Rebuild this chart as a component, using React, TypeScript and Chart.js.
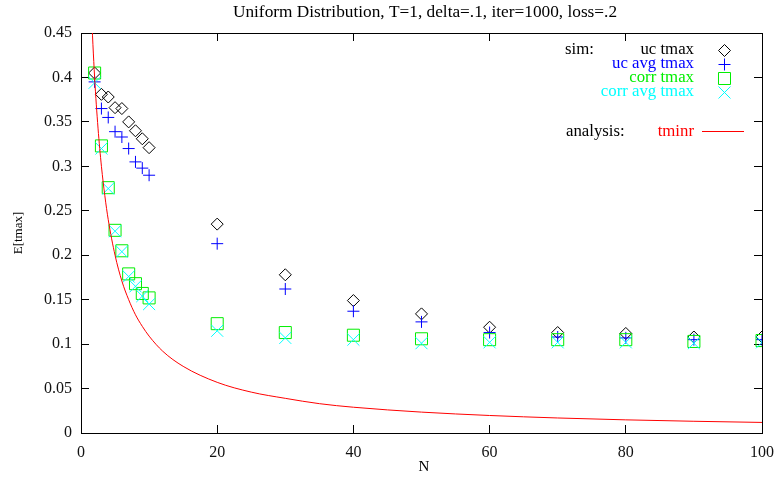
import React, { useEffect, useRef } from "react";
import { Chart, registerables } from "chart.js";

Chart.register(...registerables);

// Simulation sizes (x axis: N)
const simN = [2, 3, 4, 5, 6, 7, 8, 9, 10, 20, 30, 40, 50, 60, 70, 80, 90, 100];

// E[tmax] per series
const ucTmax = [0.405, 0.381, 0.378, 0.366, 0.365, 0.35, 0.34, 0.331, 0.321, 0.235, 0.178, 0.149, 0.134, 0.119, 0.113, 0.112, 0.108, 0.108];
const ucAvgTmax = [0.395, 0.365, 0.355, 0.339, 0.333, 0.32, 0.305, 0.298, 0.29, 0.213, 0.162, 0.137, 0.125, 0.113, 0.108, 0.107, 0.105, 0.105];
const corrTmax = [0.405, 0.323, 0.276, 0.228, 0.205, 0.179, 0.168, 0.157, 0.152, 0.123, 0.113, 0.11, 0.106, 0.105, 0.105, 0.105, 0.103, 0.104];
const corrAvgTmax = [0.394, 0.32, 0.275, 0.227, 0.204, 0.176, 0.165, 0.154, 0.145, 0.115, 0.107, 0.105, 0.101, 0.102, 0.102, 0.102, 0.101, 0.102];

// Analytical curve (tminr)
const tminrN = [1.3, 1.5, 2, 2.5, 3, 3.5, 4, 5, 6, 7, 8, 9, 10, 12, 15, 20, 25, 30, 35, 40, 50, 60, 70, 80, 90, 100];
const tminrV = [0.52, 0.48, 0.4, 0.343, 0.3, 0.267, 0.24, 0.2, 0.171, 0.15, 0.133, 0.12, 0.109, 0.092, 0.075, 0.057, 0.046, 0.039, 0.033, 0.029, 0.0235, 0.0197, 0.0169, 0.0148, 0.0132, 0.0119];

// Axis ticks
const xTicks = [0, 20, 40, 60, 80, 100];
const yTicks = [0, 0.05, 0.1, 0.15, 0.2, 0.25, 0.3, 0.35, 0.4, 0.45];
const yTickLabels = ["0", "0.05", "0.1", "0.15", "0.2", "0.25", "0.3", "0.35", "0.4", "0.45"];

const titleText = "Uniform Distribution, T=1, delta=.1, iter=1000, loss=.2";
const xTitle = "N";
const yTitle = "E[tmax]";

const simLegend = ["uc tmax", "uc avg tmax", "corr tmax", "corr avg tmax"];
const simColors = ["#000000", "#0000ff", "#00ee00", "#00ffff"];
const simStyles = ["rectRot", "cross", "rect", "crossRot"];
const simRadii = [6, 6, 8.5, 8.5];
const curveColor = "#ff0000";

const SERIF = "Liberation Serif";

function drawSymbol(ctx: CanvasRenderingContext2D, style: string, x: number, y: number, r: number) {
  ctx.beginPath();
  if (style === "rectRot") {
    ctx.moveTo(x, y - r);
    ctx.lineTo(x + r, y);
    ctx.lineTo(x, y + r);
    ctx.lineTo(x - r, y);
    ctx.closePath();
  } else if (style === "cross") {
    ctx.moveTo(x - r, y);
    ctx.lineTo(x + r, y);
    ctx.moveTo(x, y - r);
    ctx.lineTo(x, y + r);
  } else if (style === "rect") {
    const s = r * Math.SQRT1_2;
    ctx.rect(x - s, y - s, 2 * s, 2 * s);
  } else {
    const s = r * Math.SQRT1_2;
    ctx.moveTo(x - s, y - s);
    ctx.lineTo(x + s, y + s);
    ctx.moveTo(x - s, y + s);
    ctx.lineTo(x + s, y - s);
  }
  ctx.stroke();
}

// Title, axis titles and key
const plotText = {
  id: "plotText",
  afterDraw(chart: any) {
    const ctx: CanvasRenderingContext2D = chart.ctx;
    ctx.save();
    ctx.fillStyle = "#000";
    ctx.textAlign = "center";
    ctx.textBaseline = "middle";
    ctx.font = `17.3px ${SERIF}`;
    ctx.fillText(titleText, 425, 12);
    ctx.font = `15px ${SERIF}`;
    ctx.fillText(xTitle, 424, 467);
    ctx.save();
    ctx.translate(19, 233);
    ctx.rotate(-Math.PI / 2);
    ctx.font = `13px ${SERIF}`;
    ctx.fillText(yTitle, 0, 0);
    ctx.restore();

    ctx.font = `16.8px ${SERIF}`;
    ctx.textAlign = "left";
    ctx.fillStyle = "#000";
    ctx.fillText("sim:", 565, 50);
    ctx.fillText("analysis:", 566, 132);
    ctx.textAlign = "right";
    const rows = [50, 64, 78, 92];
    ctx.lineWidth = 1;
    simLegend.forEach((label, i) => {
      ctx.fillStyle = simColors[i];
      ctx.fillText(label, 694, rows[i]);
      ctx.strokeStyle = simColors[i];
      drawSymbol(ctx, simStyles[i], 724.5, rows[i] + 0.5, simRadii[i]);
    });
    ctx.fillStyle = curveColor;
    ctx.fillText("tminr", 694, 132);
    ctx.strokeStyle = curveColor;
    ctx.beginPath();
    ctx.moveTo(702, 131.5);
    ctx.lineTo(744, 131.5);
    ctx.stroke();
    ctx.restore();
  },
};

// Inward tick marks (negative length) and a black axis line on every side
const frameGrid = {
  display: true,
  drawOnChartArea: false,
  drawTicks: true,
  tickLength: -8,
  color: "#000",
  lineWidth: 1,
};
const frameBorder = { display: true, color: "#000", width: 1 };

export default function App() {
  const canvasRef = useRef<HTMLCanvasElement | null>(null);

  useEffect(() => {
    const canvas = canvasRef.current;
    if (!canvas) return;

    const simSeries = [ucTmax, ucAvgTmax, corrTmax, corrAvgTmax];
    const datasets: any[] = simSeries.map((vals, i) => ({
      data: simN.map((x, j) => ({ x, y: vals[j] })),
      pointStyle: simStyles[i],
      pointRadius: simRadii[i],
      borderColor: simColors[i],
      backgroundColor: "rgba(0,0,0,0)",
      order: 4 - i,
    }));
    datasets.push({
      data: tminrN.map((x, j) => ({ x, y: tminrV[j] })),
      showLine: true,
      pointRadius: 0,
      borderColor: curveColor,
      borderWidth: 1,
      cubicInterpolationMode: "monotone",
      order: 0,
    });

    const chart = new Chart(canvas, {
      type: "scatter",
      data: { datasets },
      options: {
        animation: false,
        responsive: false,
        devicePixelRatio: 1,
        layout: { padding: { left: 0, right: 0, top: 33, bottom: 0 } },
        plugins: { legend: { display: false }, title: { display: false }, tooltip: { enabled: false } },
        scales: {
          x: {
            type: "linear",
            position: "bottom",
            min: 0,
            max: 100,
            grid: { ...frameGrid },
            border: { ...frameBorder },
            afterBuildTicks: (scale: any) => {
              scale.ticks = xTicks.map((v) => ({ value: v }));
            },
            afterFit: (scale: any) => {
              scale.height = 45;
              scale.paddingLeft = 0;
              scale.paddingRight = 13;
            },
            ticks: { padding: 18, color: "#111", font: { family: SERIF, size: 16 }, maxRotation: 0 },
          },
          x2: {
            type: "linear",
            position: "top",
            min: 0,
            max: 100,
            grid: { ...frameGrid },
            border: { ...frameBorder },
            afterBuildTicks: (scale: any) => {
              scale.ticks = xTicks.map((v) => ({ value: v }));
            },
            afterFit: (scale: any) => {
              scale.height = 0;
              scale.paddingLeft = 0;
              scale.paddingRight = 0;
            },
            ticks: { display: false },
          },
          y: {
            type: "linear",
            position: "left",
            min: 0,
            max: 0.45,
            grid: { ...frameGrid },
            border: { ...frameBorder },
            afterBuildTicks: (scale: any) => {
              scale.ticks = yTicks.map((v) => ({ value: v }));
            },
            afterFit: (scale: any) => {
              scale.width = 81;
            },
            ticks: {
              padding: 17,
              color: "#111",
              font: { family: SERIF, size: 16 },
              callback: (v: any) => {
                const i = yTicks.findIndex((t) => Math.abs(t - Number(v)) < 1e-9);
                return i >= 0 ? yTickLabels[i] : "";
              },
            },
          },
          y2: {
            type: "linear",
            position: "right",
            min: 0,
            max: 0.45,
            grid: { ...frameGrid },
            border: { ...frameBorder },
            afterBuildTicks: (scale: any) => {
              scale.ticks = yTicks.map((v) => ({ value: v }));
            },
            afterFit: (scale: any) => {
              scale.width = 0;
              scale.paddingTop = 0;
              scale.paddingBottom = 0;
            },
            ticks: { display: false },
          },
        },
      },
      plugins: [plotText],
    });

    return () => chart.destroy();
  }, []);

  return (
    <div style={{ position: "fixed", left: 0, top: 0, width: 775, height: 478, background: "#fff" }}>
      <canvas ref={canvasRef} width={775} height={478} style={{ display: "block" }} />
    </div>
  );
}
